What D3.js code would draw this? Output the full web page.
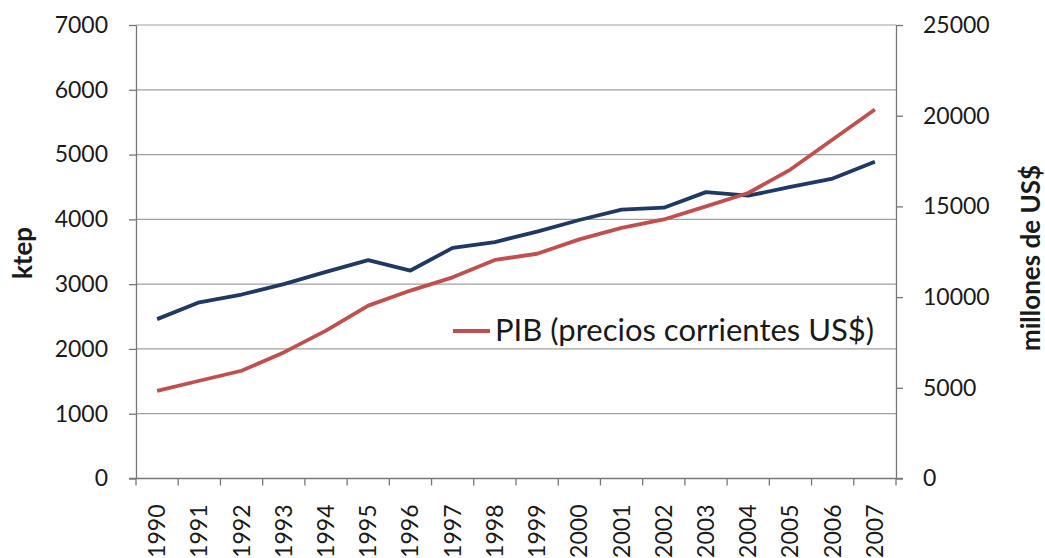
<!DOCTYPE html>
<html>
<head>
<meta charset="utf-8"/>
<script src="https://d3js.org/d3.v7.min.js"></script>
<style>
body { margin: 0; background: #fff; }
svg text { font-family: Lato, "Open Sans", sans-serif; fill: #1a1a1a; }
.grid line { stroke: #a0a0a0; stroke-width: 1.2; }
.axis path, .axis line { stroke: #777; stroke-width: 1.3; }
</style>
</head>
<body>
<script>
// data
var years = ["1990","1991","1992","1993","1994","1995","1996","1997","1998",
             "1999","2000","2001","2002","2003","2004","2005","2006","2007"];
var energia = [2460, 2720, 2840, 3000, 3190, 3370, 3210, 3560, 3650,
               3810, 3990, 4150, 4180, 4420, 4365, 4500, 4630, 4890];   // ktep, left axis
var pib = [4830, 5390, 5940, 6950, 8150, 9530, 10360, 11090, 12050,
           12390, 13180, 13820, 14280, 15000, 15740, 17030, 18690, 20340]; // millones US$, right axis
var leftTicks = [0, 1000, 2000, 3000, 4000, 5000, 6000, 7000];
var rightTicks = [0, 5000, 10000, 15000, 20000, 25000];
var legendLabel = "PIB (precios corrientes US$)";

var width = 1045, height = 558;
var margin = {left: 136, right: 149, top: 25, bottom: 80};

var svg = d3.select("body").append("svg")
    .attr("width", width)
    .attr("height", height);

var x = d3.scaleBand()
    .domain(years)
    .range([margin.left, width - margin.right]);

var yL = d3.scaleLinear()
    .domain([0, 7000])
    .range([height - margin.bottom + 0.5, margin.top]);

var yR = d3.scaleLinear()
    .domain([0, 25000])
    .range([height - margin.bottom + 0.5, margin.top]);

// horizontal gridlines
svg.append("g")
   .attr("class", "grid")
   .selectAll("line")
   .data(leftTicks.slice(1))
   .enter()
   .append("line")
   .attr("x1", margin.left)
   .attr("x2", width - margin.right)
   .attr("y1", function(d) { return yL(d); })
   .attr("y2", function(d) { return yL(d); });

// left axis
var gL = svg.append("g")
    .attr("class", "axis")
    .attr("transform", "translate(" + margin.left + ",0)")
    .call(d3.axisLeft(yL).tickValues(leftTicks).tickFormat(d3.format("d"))
            .tickSize(7).tickPadding(21).tickSizeOuter(0));
gL.selectAll("text").style("font-size", "23px");

// right axis
var gR = svg.append("g")
    .attr("class", "axis")
    .attr("transform", "translate(" + (width - margin.right) + ",0)")
    .call(d3.axisRight(yR).tickValues(rightTicks).tickFormat(d3.format("d"))
            .tickSize(7).tickPadding(20).tickSizeOuter(0));
gR.selectAll("text").style("font-size", "23px");

// bottom axis: ticks on band edges, labels at band centers
var gB = svg.append("g")
    .attr("class", "axis")
    .attr("transform", "translate(0," + yL(0) + ")");
gB.append("line")
  .attr("x1", margin.left - 7)
  .attr("x2", width - margin.right + 7);
gB.selectAll(".edge")
  .data(years.concat(["end"]))
  .enter()
  .append("line")
  .attr("class", "edge")
  .attr("x1", function(d, i) { return margin.left + i * x.bandwidth(); })
  .attr("x2", function(d, i) { return margin.left + i * x.bandwidth(); })
  .attr("y1", 0)
  .attr("y2", 7);
gB.selectAll("text")
  .data(years)
  .enter()
  .append("text")
  .attr("transform", function(d) {
      return "translate(" + (x(d) + x.bandwidth() / 2 + 8) + ",26) rotate(-90)";
  })
  .attr("text-anchor", "end")
  .style("font-size", "23px")
  .text(function(d) { return d; });

// axis titles
svg.append("text")
   .attr("transform", "translate(32,253) rotate(-90)")
   .attr("text-anchor", "middle")
   .style("font-size", "26px")
   .style("font-weight", "bold")
   .text("ktep");

svg.append("text")
   .attr("transform", "translate(1040,258) rotate(-90)")
   .attr("text-anchor", "middle")
   .style("font-size", "26px")
   .style("font-weight", "bold")
   .text("millones de US$");

// lines
var lineL = d3.line()
    .x(function(d, i) { return x(years[i]) + x.bandwidth() / 2; })
    .y(function(d) { return yL(d); });
var lineR = d3.line()
    .x(function(d, i) { return x(years[i]) + x.bandwidth() / 2; })
    .y(function(d) { return yR(d); });

svg.append("path")
   .datum(energia)
   .attr("fill", "none")
   .attr("stroke", "#1f3864")
   .attr("stroke-width", 3.8)
   .attr("stroke-linejoin", "round")
   .attr("d", lineL);

svg.append("path")
   .datum(pib)
   .attr("fill", "none")
   .attr("stroke", "#c0504d")
   .attr("stroke-width", 3.8)
   .attr("stroke-linejoin", "round")
   .attr("d", lineR);

// legend
var leg = svg.append("g").attr("transform", "translate(453,331)");
leg.append("line")
   .attr("x1", 0).attr("x2", 37)
   .attr("stroke", "#c0504d")
   .attr("stroke-width", 3.8);
leg.append("text")
   .attr("x", 42)
   .attr("y", 10)
   .style("font-size", "31px")
   .text(legendLabel);
</script>
</body>
</html>
